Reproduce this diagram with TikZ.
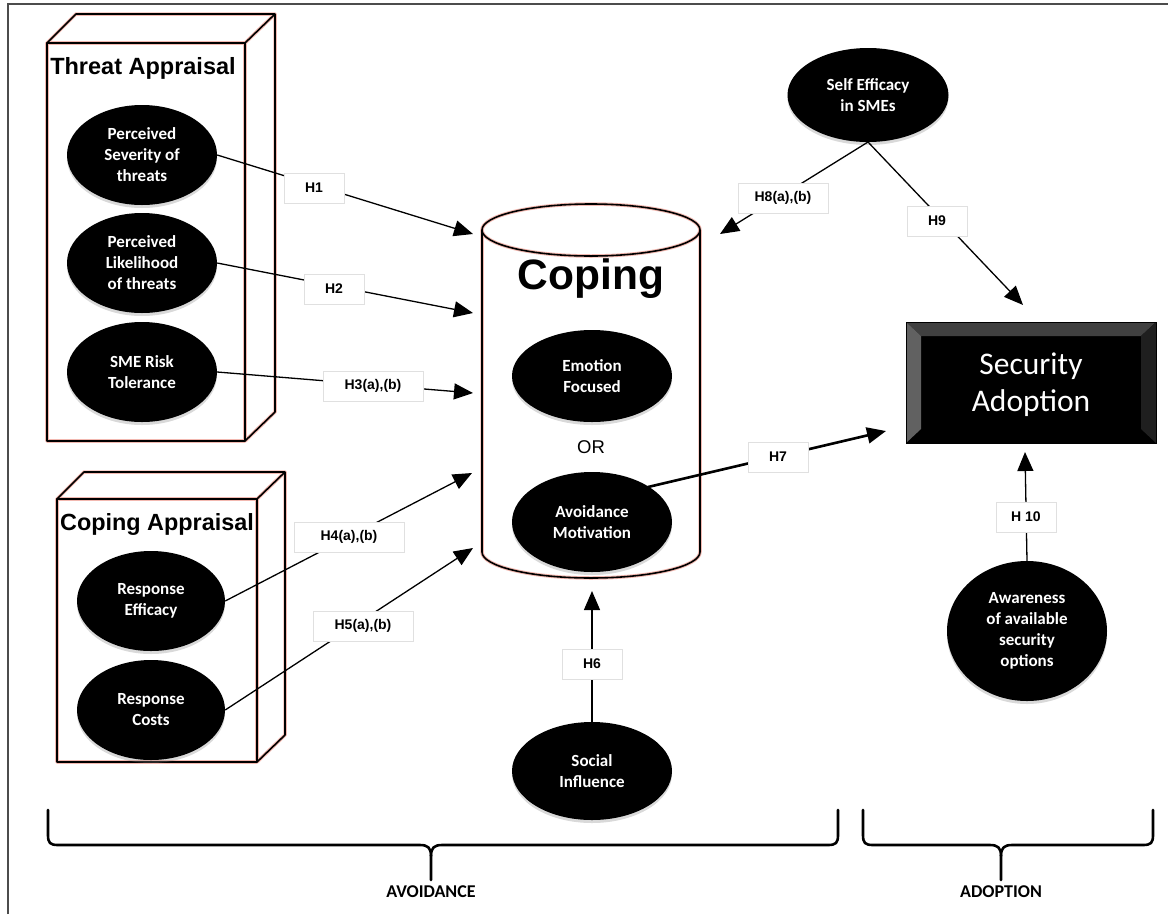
\documentclass[tikz,border=0pt]{standalone}
\usepackage{fontspec}
\setmainfont{Liberation Sans}
\newfontfamily\calfont{Carlito}
\usetikzlibrary{arrows.meta,shapes.geometric,shadows}
\definecolor{glow}{HTML}{F2B8B0}
\begin{document}
\begin{tikzpicture}[x=1pt,y=-1pt,
  oval/.style={ellipse,fill=black,minimum width=150pt,minimum height=100pt,inner sep=0pt,
    text=white,align=center,font=\calfont\bfseries\fontsize{17}{21}\selectfont,
    drop shadow={shadow xshift=0pt,shadow yshift=-3pt,opacity=0.3}},
  hlab/.style={fill=white,draw=black!12,minimum width=60pt,minimum height=30pt,inner xsep=4pt,
    font=\bfseries\fontsize{14}{16}\selectfont,
    drop shadow={shadow xshift=1pt,shadow yshift=-1pt,opacity=0.12}},
  conn/.style={line width=1.3pt,-{Triangle[length=19pt,width=16pt]}},
  glowline/.style={glow,line width=3.5pt,line join=round},
  boxline/.style={black,line width=1.6pt,line join=round},
  bracepath/.style={line width=2.6pt,line cap=round,line join=round},
  framel/.style={black!70,line width=1.6pt}
]
\useasboundingbox (0,0) rectangle (1168,914);
% frame
\draw[framel] (8,914) -- (8,4) -- (1168,4);

% Threat Appraisal box
\foreach \s in {glowline,boxline}{
  \draw[\s] (47,43) rectangle (245,441);
  \draw[\s] (47,43) -- (76,14) -- (275,14) -- (245,43);
  \draw[\s] (275,14) -- (275,412) -- (245,441);
}
\node[font=\bfseries\fontsize{23.5}{26}\selectfont] (tatitle) at (143,68) {Threat Appraisal};

% Coping Appraisal box
\foreach \s in {glowline,boxline}{
  \draw[\s] (57,499) rectangle (257,762);
  \draw[\s] (57,499) -- (84,472) -- (285,472) -- (257,499);
  \draw[\s] (285,472) -- (285,735) -- (257,762);
}
\node[font=\bfseries\fontsize{23.4}{26}\selectfont] (catitle) at (157,524) {Coping Appraisal};

% Coping cylinder
\foreach \s in {glowline,boxline}{
  \draw[\s] (482,230) -- (482,552) arc[start angle=180,end angle=360,x radius=109pt,y radius=26pt] -- (700,230);
  \draw[\s] (591,230) ellipse[x radius=109pt,y radius=26pt];
}
\node[font=\bfseries\fontsize{42.5}{46}\selectfont] (coping) at (591,279) {Coping};
\node[font=\fontsize{18.5}{20}\selectfont] (or) at (591,447) {OR};

% ellipses
\node[oval] (sev) at (142,155) {Perceived\\Severity of\\threats};
\node[oval] (lik) at (142,263) {Perceived\\Likelihood\\of threats};
\node[oval] (risk) at (142,372) {SME Risk\\Tolerance};
\node[oval,minimum width=148pt] (reff) at (151,601) {Response\\Efficacy};
\node[oval,minimum width=148pt] (rcost) at (151,710) {Response\\Costs};
\node[oval,minimum width=160pt,minimum height=92pt] (emo) at (592,376) {Emotion\\Focused};
\node[oval,minimum width=160pt,minimum height=100pt] (avm) at (592,522) {Avoidance\\Motivation};
\node[oval,minimum width=161pt,minimum height=94pt] (self) at (868,95) {Self Efficacy\\in SMEs};
\node[oval,minimum width=160pt,minimum height=98pt] (soc) at (592,771) {Social\\Influence};
\node[oval,minimum width=160pt,minimum height=140pt] (aware) at (1027,631) {Awareness\\of available\\security\\options};

% Security Adoption beveled box
\fill[black] (906,322) rectangle (1156,443);
\fill[black!75] (906,322) -- (1156,322) -- (1141,336) -- (921,336) -- cycle;
\fill[black!62] (906,322) -- (921,336) -- (921,429) -- (906,443) -- cycle;
\fill[black!88] (1156,322) -- (1141,336) -- (1141,429) -- (1156,443) -- cycle;
\draw[black,line width=0.8pt] (906,322) rectangle (1156,443);
\node[text=white,align=center,font=\calfont\fontsize{31.5}{37}\selectfont] (secad) at (1031,385) {Security\\Adoption};

% arrow end coordinates
\coordinate (t1) at (473,234);
\coordinate (t2) at (473,313);
\coordinate (t3) at (473,393);
\coordinate (t4) at (472,473);
\coordinate (t5) at (473,548);
\coordinate (t6) at (592,591);
\coordinate (t7) at (886,431);
\coordinate (t8) at (720,234);
\coordinate (t9) at (1023,305);
\coordinate (t10) at (1025,452);
\coordinate (s7) at (648,487);
\coordinate (s8) at (868,142);

% connectors
\draw[conn] (sev.east) -- (t1);
\draw[conn] (lik.east) -- (t2);
\draw[conn] (risk.east) -- (t3);
\draw[conn] (reff.east) -- (t4);
\draw[conn] (rcost.east) -- (t5);
\draw[conn] (soc.north) -- (t6);
\draw[conn,line width=2.6pt,-{Triangle[length=19pt,width=16pt]}] (s7) -- (t7);
\draw[conn] (s8) -- (t8);
\draw[conn] (s8) -- (t9);
\draw[conn] (aware.north) -- (t10);

% labels
\node[hlab] (h1) at (314,188) {H1};
\node[hlab] (h2) at (334,289) {H2};
\node[hlab,minimum width=100pt] (h3) at (373,386) {H3(a),(b)};
\node[hlab,minimum width=110pt] (h4) at (349,537) {H4(a),(b)};
\node[hlab,minimum width=100pt] (h5) at (363,626) {H5(a),(b)};
\node[hlab] (h6) at (592,664) {H6};
\node[hlab] (h7) at (778,457) {H7};
\node[hlab,minimum width=90pt] (h8) at (783,198) {H8(a),(b)};
\node[hlab] (h9) at (937,221) {H9};
\node[hlab] (h10) at (1026,517) {H 10};

% braces
\draw[bracepath] (48,810) -- (48,835) .. controls (48,843) and (50,845) .. (58,845) -- (420,845)
  .. controls (428,845) and (431,848) .. (431,856) -- (431,880);
\draw[bracepath] (838,810) -- (838,835) .. controls (838,843) and (836,845) .. (828,845) -- (442,845)
  .. controls (434,845) and (431,848) .. (431,856);
\draw[bracepath] (863,810) -- (863,835) .. controls (863,843) and (865,845) .. (873,845) -- (990,845)
  .. controls (998,845) and (1001,848) .. (1001,856) -- (1001,880);
\draw[bracepath] (1153,810) -- (1153,835) .. controls (1153,843) and (1151,845) .. (1143,845) -- (1012,845)
  .. controls (1004,845) and (1001,848) .. (1001,856);
\node[font=\calfont\bfseries\fontsize{18}{20}\selectfont] (avoid) at (431,892) {AVOIDANCE};
\node[font=\calfont\bfseries\fontsize{18}{20}\selectfont] (adopt) at (1001,892) {ADOPTION};
\end{tikzpicture}
\end{document}
